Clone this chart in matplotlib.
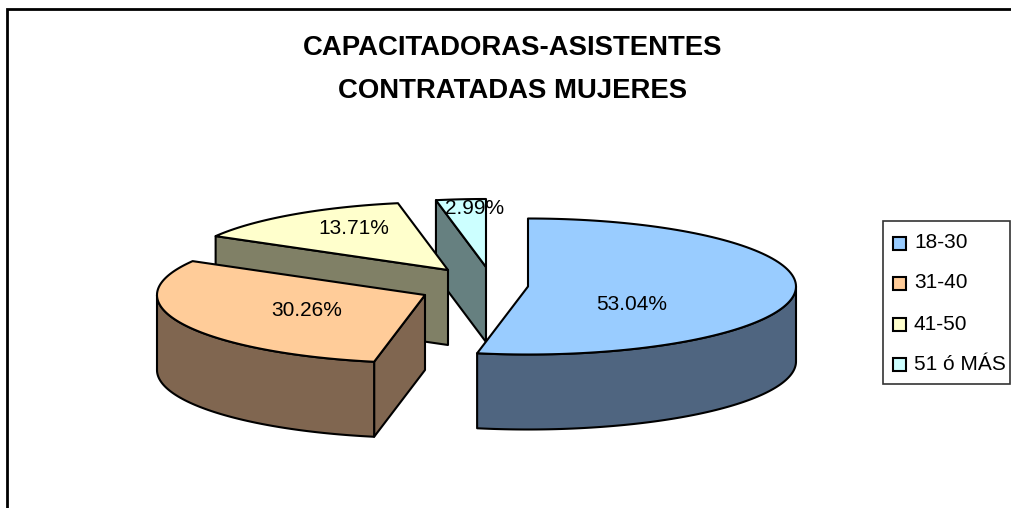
import numpy as np
import matplotlib
matplotlib.use('Agg')
import matplotlib.pyplot as plt
from matplotlib.patches import Polygon, Rectangle

plt.rcParams['font.family'] = ['Liberation Sans', 'DejaVu Sans']

categories = ['18-30', '31-40', '41-50', '51 ó MÁS']
values = [53.04, 30.26, 13.71, 2.99]
labels = ['53.04%', '30.26%', '13.71%', '2.99%']
title_lines = ['CAPACITADORAS-ASISTENTES', 'CONTRATADAS MUJERES']

top_colors = ['#99CCFF', '#FFCC99', '#FFFFCC', '#CCFFFF']
side_colors = ['#4F6580', '#806650', '#808066', '#668080']

# pixel layout of the exploded 3D pie
centers = [(528, 286.5), (425, 295), (448, 270), (486, 267)]
label_pos = [(632, 304), (307, 310), (354, 229), (475, 209)]
RX, RY, DEPTH = 268, 68, 75

W, H = 1011, 508
fig = plt.figure(figsize=(W / 100, H / 100), dpi=100)
ax = fig.add_axes([0, 0, 1, 1])
ax.set_xlim(0, W)
ax.set_ylim(H, 0)
ax.axis('off')

def rim(cx, cy, a0, a1):
    t = np.radians(np.linspace(a0, a1, 120))
    return np.column_stack([cx + RX * np.sin(t), cy - RY * np.cos(t)])

def face(pts, color, z):
    ax.add_patch(Polygon(pts, closed=True, facecolor=color, edgecolor='black',
                         lw=1.5, joinstyle='round', zorder=z))

edges = np.concatenate([[0], np.cumsum(values)]) / sum(values) * 360

# back to front: 51 o MAS, 41-50, 31-40, 18-30
for i in [3, 2, 1, 0]:
    cx, cy = centers[i]
    a0, a1 = edges[i], edges[i + 1]
    arc = rim(cx, cy, a0, a1)
    z = 10 + (3 - i) * 3
    drop = np.array([0, DEPTH])
    apex = np.array([cx, cy])

    # inner cut faces, only the ones turned to the viewer
    if i == 1:
        face([apex, arc[0], arc[0] + drop, apex + drop], side_colors[i], z)
    if i in (2, 3):
        face([arc[0], apex, apex + drop, arc[0] + drop], side_colors[i], z)

    # outer wall, lower half of the rim
    t = np.linspace(a0, a1, 200) % 360
    vis = (t > 90) & (t < 270)
    if vis.any():
        low = rim(cx, cy, max(a0, 90), min(a1, 270))
        face(np.vstack([low, (low + drop)[::-1]]), side_colors[i], z + 1)

    face(np.vstack([apex, arc]), top_colors[i], z + 2)

for txt, (x, y) in zip(labels, label_pos):
    ax.text(x, y, txt, ha='center', va='center', fontsize=15, color='black',
            zorder=30)

ax.text(513, 48, title_lines[0], ha='center', va='center', fontsize=19.8,
        fontweight='bold', zorder=30)
ax.text(513, 91, title_lines[1], ha='center', va='center', fontsize=19.8,
        fontweight='bold', zorder=30)

# chart frame, cut off at the right and bottom of the picture
ax.plot([7, 7, W + 2], [H + 2, 8.5, 8.5], color='black', lw=2, zorder=40,
        solid_joinstyle='miter')

# legend box
ax.add_patch(Rectangle((883, 221), 127, 163, facecolor='white', edgecolor='#333333',
                       lw=1.2, zorder=20))
legend_y = [243, 283, 324, 364]
for name, col, y in zip(categories, top_colors, legend_y):
    ax.add_patch(Rectangle((892.5, y - 6.5), 13, 13, facecolor=col, edgecolor='black',
                           lw=1.5, zorder=21))
    ax.text(914, y, name, ha='left', va='center', fontsize=15, zorder=22)

fig.savefig('out.png', dpi=100)
